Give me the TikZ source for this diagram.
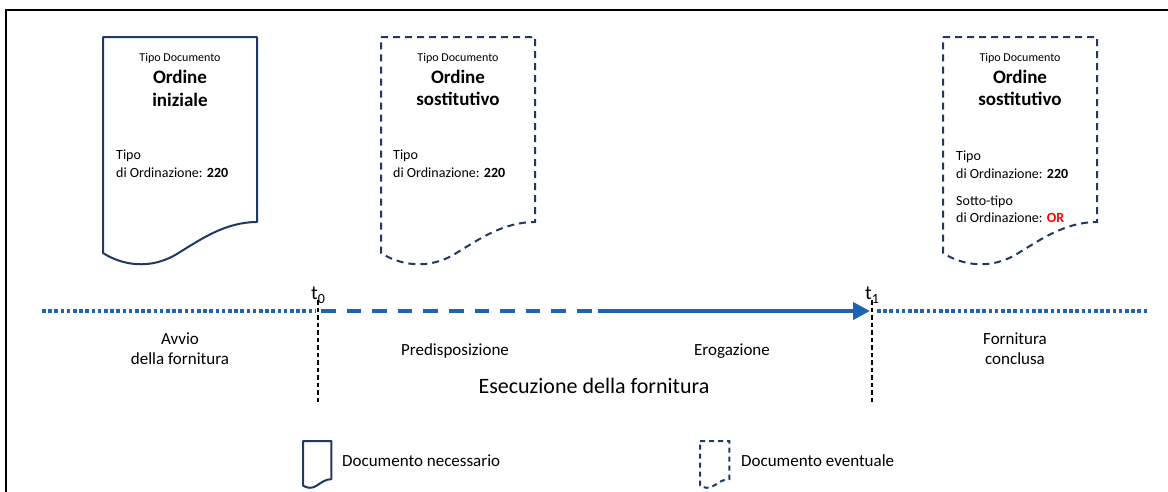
\documentclass[tikz,border=0pt]{standalone}
\usepackage{fontspec}
\setmainfont{Carlito}
\usetikzlibrary{arrows.meta}
\definecolor{docblue}{RGB}{31,56,100}
\definecolor{lineblue}{RGB}{30,100,178}
\definecolor{ordred}{RGB}{255,0,0}
\newcommand{\setfs}[1]{\fontsize{#1}{#1}\selectfont}
\begin{document}
\begin{tikzpicture}[x=1pt,y=-1pt,
  docsolid/.style={draw=docblue,line width=2pt,line join=round},
  docdash/.style={draw=docblue,line width=2pt,dash pattern=on 7pt off 5pt},
  docdashsmall/.style={draw=docblue,line width=2pt,dash pattern=on 5pt off 4pt},
  pics/docshape/.style={code={\draw[#1] (0,0) -- (154,0) -- (154,185) .. controls (122,185) and (97,203) .. (77,215) .. controls (47,235) and (17,227) .. (0,216) -- cycle;}},
  hdr/.style={anchor=base,inner sep=0pt,font=\setfs{12}},
  ttl/.style={anchor=base,inner sep=0pt,font=\setfs{19}\bfseries},
  body/.style={anchor=base west,inner sep=0pt,font=\setfs{14}},
  lbl/.style={anchor=base,inner sep=0pt,font=\setfs{17}},
  biglbl/.style={anchor=base,inner sep=0pt,font=\setfs{22}},
  leg/.style={anchor=base west,inner sep=0pt,font=\setfs{17}},
  tlbl/.style={anchor=base,inner sep=0pt,font=\setfs{20}},
  dotline/.style={draw=lineblue,line width=3.5pt,dash pattern=on 3.5pt off 2.7pt},
  dashline/.style={draw=lineblue,line width=4pt,dash pattern=on 14.5pt off 11.1pt},
  solidline/.style={draw=lineblue,line width=4pt},
  vline/.style={draw=black,line width=1.3pt,dash pattern=on 4.5pt off 3pt}
]
\useasboundingbox (0,0) rectangle (1168,491);
% frame
\draw[line width=2.5pt] (6,492) -- (6,10) -- (1169,10);

% documents
\pic at (103,37) {docshape=docsolid};
\pic at (381,37) {docshape=docdash};
\pic at (943,37) {docshape=docdash};

% document 1
\node[hdr] (d1h) at (180,61) {Tipo Documento};
\node[ttl] (d1t1) at (180,83) {Ordine};
\node[ttl] (d1t2) at (180,106) {iniziale};
\node[body] (d1b1) at (116,159) {Tipo};
\node[body] (d1b2) at (116,177) {di Ordinazione: \textbf{220}};

% document 2
\node[hdr] (d2h) at (458,61) {Tipo Documento};
\node[ttl] (d2t1) at (458,83) {Ordine};
\node[ttl] (d2t2) at (458,105) {sostitutivo};
\node[body] (d2b1) at (393,159) {Tipo};
\node[body] (d2b2) at (393,177) {di Ordinazione: \textbf{220}};

% document 3
\node[hdr] (d3h) at (1020,61) {Tipo Documento};
\node[ttl] (d3t1) at (1020,83) {Ordine};
\node[ttl] (d3t2) at (1020,105) {sostitutivo};
\node[body] (d3b1) at (956,160) {Tipo};
\node[body] (d3b2) at (956,178) {di Ordinazione: \textbf{220}};
\node[body] (d3b3) at (956,205) {Sotto-tipo};
\node[body] (d3b4) at (956,222) {di Ordinazione: \textcolor{ordred}{\textbf{OR}}};

% timeline
\coordinate (a0) at (42,311);
\coordinate (t0e) at (316,311);
\coordinate (t0s) at (321,311);
\coordinate (mide) at (592,311);
\coordinate (mids) at (598,311);
\coordinate (t1) at (870,311);
\coordinate (t1s) at (877,311);
\coordinate (a1) at (1148,311);
\draw[dotline] (a0) -- (t0e);
\draw[dashline] (t0s) -- (mide);
\draw[solidline,-{Triangle[length=17pt,width=17pt]}] (mids) -- (t1);
\draw[dotline] (t1s) -- (a1);

\coordinate (v0a) at (318,300);
\coordinate (v0b) at (318,405);
\coordinate (v1a) at (872,300);
\coordinate (v1b) at (872,405);
\draw[vline] (v0a) -- (v0b);
\draw[vline] (v1a) -- (v1b);

\node[tlbl] (lt0) at (318,299) {t\raisebox{-4pt}{\setfs{14}0}};
\node[tlbl] (lt1) at (872,299) {t\raisebox{-4pt}{\setfs{14}1}};

% phase labels
\node[lbl] (avvio1) at (180,344) {Avvio};
\node[lbl] (avvio2) at (180,364) {della fornitura};
\node[lbl] (pred) at (455,355) {Predisposizione};
\node[lbl] (erog) at (732,355) {Erogazione};
\node[lbl] (forn1) at (1015,344) {Fornitura};
\node[lbl] (forn2) at (1015,364) {conclusa};
\node[biglbl] (esec) at (594,393) {Esecuzione della fornitura};

% legend
\pic[xscale=0.185,yscale=0.206] at (303,441) {docshape=docsolid};
\node[leg] (leg1) at (342,466) {Documento necessario};
\pic[xscale=0.19,yscale=0.206] at (700,441) {docshape=docdashsmall};
\node[leg] (leg2) at (741,466) {Documento eventuale};
\end{tikzpicture}
\end{document}
